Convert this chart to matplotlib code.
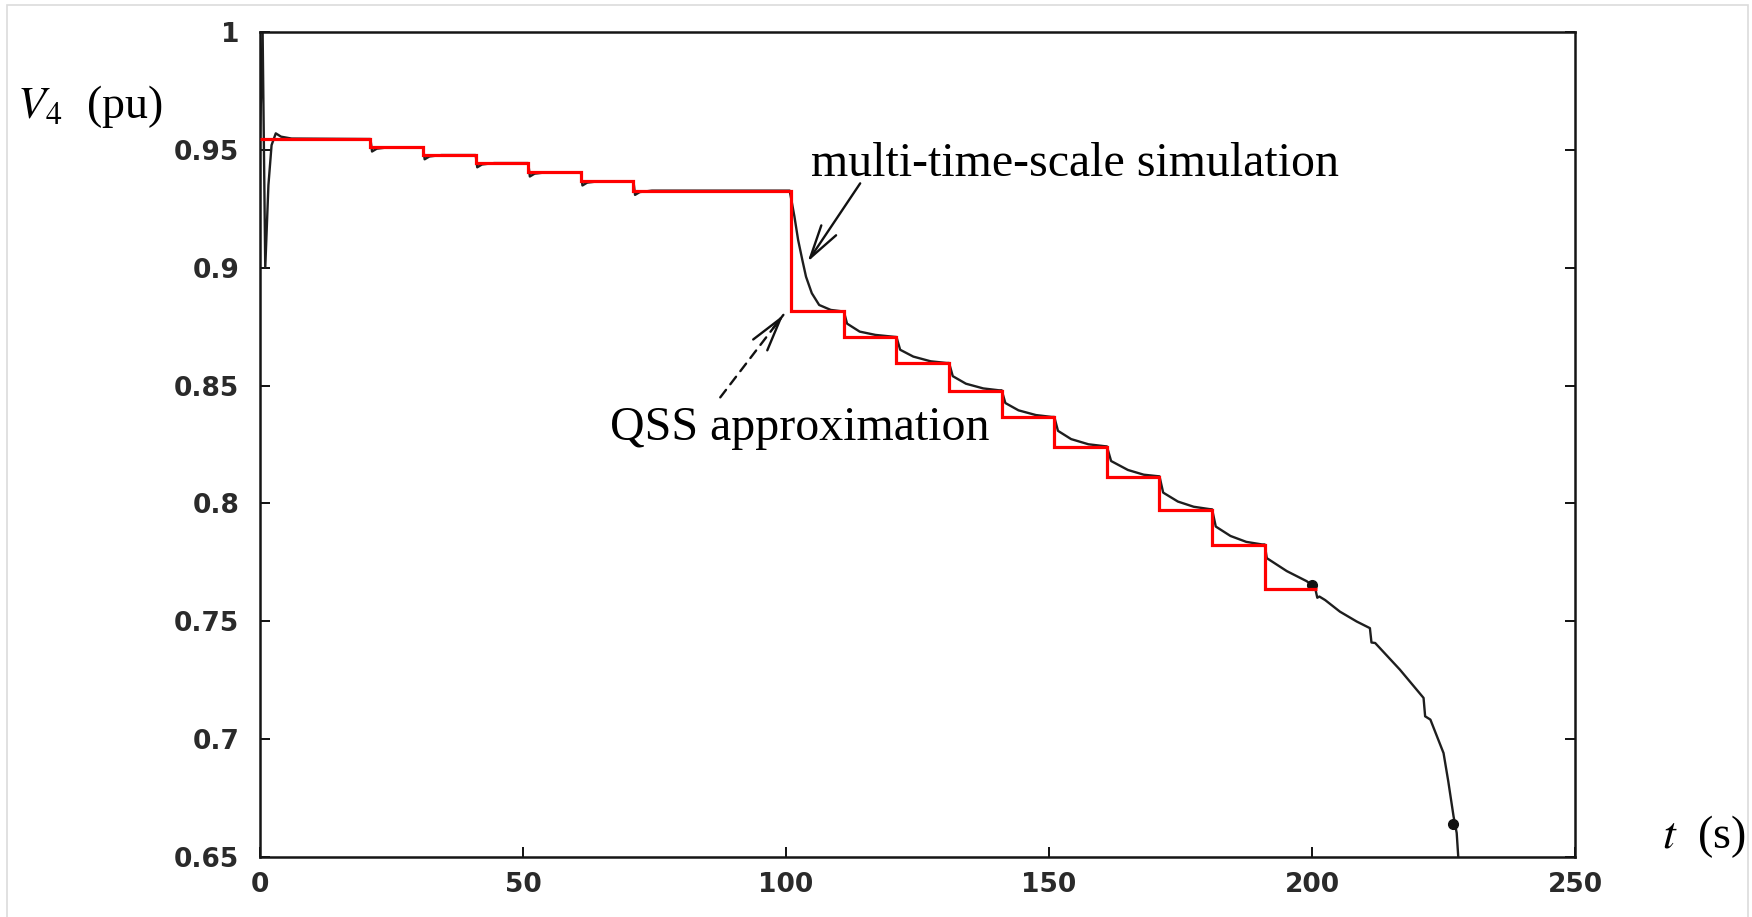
import matplotlib

matplotlib.use("Agg")
import matplotlib.pyplot as plt
from matplotlib.patches import Rectangle
from matplotlib.ticker import FuncFormatter

# QSS approximation: staircase levels between switching instants (s, pu)
qss_t = [0, 21, 31, 41, 51, 61, 71, 101, 111, 121, 131, 141, 151, 161, 171, 181, 191, 201]
qss_v = [0.9545, 0.9511, 0.9478, 0.9444, 0.9405, 0.9367, 0.9327, 0.8817, 0.8705,
         0.8595, 0.8479, 0.8366, 0.8241, 0.8114, 0.7973, 0.7824, 0.7638]

# multi-time-scale simulation
sim_t = [0.0, 0.5, 1.0, 1.6, 2.2, 3.0, 4.0, 6.0, 21.0,
         21.3, 22.2, 24.5, 31.0,
         31.3, 32.2, 34.5, 41.0,
         41.3, 42.2, 44.5, 51.0,
         51.3, 52.2, 54.5, 61.0,
         61.3, 62.2, 64.5, 71.0,
         71.3, 72.2, 74.5, 100.7,
         101.6, 102.3, 103.1, 103.8, 104.9, 106.3, 108.5,
         111.0, 111.6, 114.0, 117.0, 120.5,
         121.0, 121.7, 124.2, 127.5, 130.5,
         131.0, 131.7, 134.2, 137.5, 140.5,
         141.0, 141.7, 144.2, 147.5, 150.5,
         151.0, 151.7, 154.2, 157.5, 160.5,
         161.0, 161.8, 165.0, 168.0, 170.5,
         171.0, 171.7, 174.5, 177.5, 180.5,
         181.0, 181.7, 184.5, 187.5, 190.5,
         191.0, 191.4, 195.2, 199.0, 199.9,
         200.5, 201.0, 201.4, 202.5, 205.3, 208.5, 211.0,
         211.3, 212.0, 216.7, 221.2, 221.5, 222.5, 225.0,
         225.9, 226.9, 227.5, 227.8]
sim_v = [0.9550, 1.0000, 0.9000, 0.9350, 0.9520, 0.9570, 0.9556, 0.9548, 0.9546,
         0.9493, 0.9505, 0.9511, 0.9511,
         0.9460, 0.9472, 0.9478, 0.9478,
         0.9426, 0.9438, 0.9444, 0.9444,
         0.9387, 0.9399, 0.9405, 0.9405,
         0.9349, 0.9361, 0.9367, 0.9367,
         0.9309, 0.9321, 0.9327, 0.9327,
         0.9217, 0.9118, 0.9033, 0.8962, 0.8892, 0.8842, 0.8821,
         0.8814, 0.8763, 0.8729, 0.8715, 0.8707,
         0.8706, 0.8652, 0.8623, 0.8603, 0.8596,
         0.8596, 0.8540, 0.8508, 0.8488, 0.8480,
         0.8480, 0.8426, 0.8395, 0.8375, 0.8367,
         0.8367, 0.8308, 0.8273, 0.8251, 0.8243,
         0.8242, 0.8180, 0.8142, 0.8122, 0.8116,
         0.8115, 0.8046, 0.8008, 0.7986, 0.7976,
         0.7975, 0.7902, 0.7862, 0.7837, 0.7826,
         0.7826, 0.7768, 0.7713, 0.7670, 0.7654,
         0.7650, 0.7600, 0.7605, 0.7590, 0.7541, 0.7499, 0.7471,
         0.7410, 0.7408, 0.7295, 0.7175, 0.7097, 0.7083, 0.6941,
         0.6821, 0.6673, 0.6602, 0.6500]

# thick blots on the simulated trace
blot_t = [199.9, 226.8]
blot_v = [0.7656, 0.6640]

x_ticks = [0, 50, 100, 150, 200, 250]
y_ticks = [0.65, 0.7, 0.75, 0.8, 0.85, 0.9, 0.95, 1.0]

plt.rcParams["mathtext.fontset"] = "stix"

fig = plt.figure(figsize=(17.52, 9.17), dpi=100)
fig.patches.append(Rectangle((7 / 1752, -0.01), 1741 / 1752, 1.01 - 5 / 917,
                             transform=fig.transFigure, fill=False,
                             edgecolor="#dcdcdc", linewidth=1.2))
ax = fig.add_axes([0.1484, 0.0654, 0.7506, 0.8997])

ax.plot(sim_t, sim_v, color="#1e1e1e", linewidth=1.7, zorder=2)
ax.plot(blot_t, blot_v, linestyle="none", marker="o", markersize=7,
        color="#111111", zorder=2)
ax.stairs(qss_v, qss_t, color="#ff0000", linewidth=2.3, baseline=None, zorder=3)

ax.set_xlim(0, 250)
ax.set_ylim(0.65, 1.0)
ax.set_xticks(x_ticks)
ax.set_yticks(y_ticks)
ax.yaxis.set_major_formatter(FuncFormatter(lambda v, _: f"{v:g}"))
ax.tick_params(direction="in", length=7, width=1.4, labelsize=19,
               top=False, right=True, colors="#111111")
ax.tick_params(axis="x", pad=11)
ax.tick_params(axis="y", pad=15)
for lab in ax.get_xticklabels() + ax.get_yticklabels():
    lab.set_fontfamily("DejaVu Sans")
    lab.set_fontweight("bold")
    lab.set_color("#2a2a2a")
for sp in ax.spines.values():
    sp.set_linewidth(1.8)
    sp.set_color("#151515")

serif = "Liberation Serif"
head = "->,head_length=1.2,head_width=0.32"
ax.annotate("", xy=(104.1, 0.9025), xytext=(114.1, 0.9358),
            arrowprops=dict(arrowstyle=head, color="#111111", lw=1.7,
                            shrinkA=0, shrinkB=0, mutation_scale=20))
ax.text(104.8, 0.939, "multi-time-scale simulation", fontsize=34.5, family=serif,
        va="baseline", ha="left")

# dashed shaft, solid head
ax.annotate("", xy=(99.5, 0.880), xytext=(87.5, 0.845),
            arrowprops=dict(arrowstyle="-", color="#111111", lw=1.7,
                            linestyle=(0, (4, 3)), shrinkA=0, shrinkB=0))
ax.annotate("", xy=(99.5, 0.880), xytext=(97.6, 0.8745),
            arrowprops=dict(arrowstyle=head, color="#111111", lw=1.7,
                            shrinkA=0, shrinkB=0, mutation_scale=20))
ax.text(66.5, 0.827, "QSS approximation", fontsize=34.5, family=serif,
        va="baseline", ha="left")

fig.text(17 / 1752, 1 - 118 / 917, r"$V_4$  (pu)", fontsize=33, family=serif,
         va="baseline", ha="left")
fig.text(1662 / 1752, 1 - 848 / 917, r"$t$  (s)", fontsize=33, family=serif,
         va="baseline", ha="left")

fig.savefig("out.png", dpi=100)
